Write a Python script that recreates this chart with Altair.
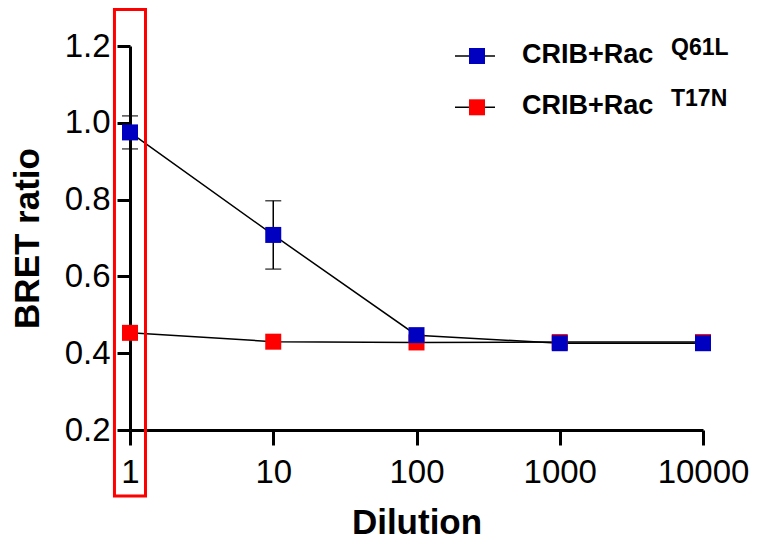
import altair as alt
import pandas as pd

# ---- data ----
dilution = [1, 10, 100, 1000, 10000]
q61l_mean = [0.975, 0.708, 0.447, 0.426, 0.426]
q61l_err = [0.043, 0.089, 0.0, 0.0, 0.0]
t17n_mean = [0.453, 0.430, 0.428, 0.429, 0.429]
t17n_err = [0.0, 0.0, 0.0, 0.0, 0.0]

series_names = ["CRIB+Rac Q61L", "CRIB+Rac T17N"]
legend_main = ["CRIB+Rac", "CRIB+Rac"]
legend_sup = ["Q61L", "T17N"]
series_colors = ["#0000C0", "#FF0000"]

y_ticks = [0.2, 0.4, 0.6, 0.8, 1.0, 1.2]
x_ticks = [1, 10, 100, 1000, 10000]

# highlight box around dilution 1 (data space)
box_x = [0.779, 1.283]
box_y = [0.028, 1.295]

rows = []
for name, means, errs in [(series_names[0], q61l_mean, q61l_err),
                          (series_names[1], t17n_mean, t17n_err)]:
    for d, m, e in zip(dilution, means, errs):
        rows.append({"series": name, "dilution": d, "mean": m,
                     "lo": m - e, "hi": m + e, "err": e})
df = pd.DataFrame(rows)

W, H = 573, 384
FONT = "Liberation Sans"

xscale = alt.Scale(type="log", domain=[1, 10000], nice=False)
yscale = alt.Scale(domain=[0.2, 1.2], nice=False, zero=False)

x_axis = alt.Axis(values=x_ticks, format="d",
                  labelFontSize=33, titleFontSize=35, titleFontWeight="bold",
                  tickSize=15, tickWidth=3, domainWidth=3,
                  labelPadding=11, titlePadding=16, labelFlush=False,
                  labelOverlap=False, grid=False,
                  domainColor="black", tickColor="black",
                  labelColor="black", titleColor="black")
y_axis = alt.Axis(values=y_ticks, format=".1f",
                  labelFontSize=33, titleFontSize=35, titleFontWeight="bold",
                  tickSize=13, tickWidth=3, domainWidth=3,
                  labelPadding=7, titlePadding=19, grid=False,
                  domainColor="black", tickColor="black",
                  labelColor="black", titleColor="black")

XT = "Dilution"
YT = "BRET ratio"

color_scale = alt.Scale(domain=series_names, range=series_colors)

base = alt.Chart(df)

lines = base.mark_line(color="black", strokeWidth=1.5).encode(
    x=alt.X("dilution:Q", scale=xscale, axis=x_axis, title=XT),
    y=alt.Y("mean:Q", scale=yscale, axis=y_axis, title=YT),
    detail="series:N",
    order=alt.Order("dilution:Q"))

errbars = base.transform_filter("datum.err > 0").mark_errorbar(
    ticks=True, size=16, thickness=1.5, color="black").encode(
    x=alt.X("dilution:Q", scale=xscale, axis=x_axis, title=XT),
    y=alt.Y("lo:Q", scale=yscale, axis=y_axis, title=YT),
    y2="hi:Q")

red_pts = base.transform_filter(alt.datum.series == series_names[1]).mark_point(
    shape="square", filled=True, size=256, opacity=1).encode(
    x=alt.X("dilution:Q", scale=xscale, axis=x_axis, title=XT),
    y=alt.Y("mean:Q", scale=yscale, axis=y_axis, title=YT),
    color=alt.Color("series:N", scale=color_scale, legend=None))

blue_pts = base.transform_filter(alt.datum.series == series_names[0]).mark_point(
    shape="square", filled=True, size=256, opacity=1).encode(
    x=alt.X("dilution:Q", scale=xscale, axis=x_axis, title=XT),
    y=alt.Y("mean:Q", scale=yscale, axis=y_axis, title=YT),
    color=alt.Color("series:N", scale=color_scale, legend=None))

box_df = pd.DataFrame({"x1": [box_x[0]], "x2": [box_x[1]],
                       "y1": [box_y[0]], "y2": [box_y[1]]})
box = alt.Chart(box_df).mark_rect(filled=False, stroke="#FF0000", strokeWidth=3,
                                  clip=False).encode(
    x=alt.X("x1:Q", scale=xscale, axis=x_axis, title=XT), x2="x2:Q",
    y=alt.Y("y1:Q", scale=yscale, axis=y_axis, title=YT), y2="y2:Q")

# ---- manual legend (superscripts) ----
legend_layers = []
for i in range(2):
    yc = 10 + i * 51.3
    one = pd.DataFrame({"t": [legend_main[i]], "s": [legend_sup[i]]})
    lc = alt.Chart(one)
    legend_layers.append(lc.mark_rule(color="black", strokeWidth=1.5).encode(
        x=alt.value(325), x2=alt.value(365), y=alt.value(yc)))
    legend_layers.append(lc.mark_point(shape="square", filled=True, size=256,
                                       opacity=1, color=series_colors[i]).encode(
        x=alt.value(347), y=alt.value(yc)))
    legend_layers.append(lc.mark_text(align="left", baseline="alphabetic",
                                      fontSize=27, fontWeight="bold",
                                      color="black", font=FONT).encode(
        x=alt.value(392), y=alt.value(yc + 6.5), text="t:N"))
    legend_layers.append(lc.mark_text(align="left", baseline="alphabetic",
                                      fontSize=23, fontWeight="bold",
                                      color="black", font=FONT).encode(
        x=alt.value(541), y=alt.value(yc - 1), text="s:N"))

chart = alt.layer(lines, box, errbars, red_pts, blue_pts, *legend_layers).properties(
    width=W, height=H,
    autosize=alt.AutoSizeParams(type="none"),
    padding={"left": 122, "top": 38, "right": 47, "bottom": 112},
).configure(font=FONT).configure_view(stroke=None).configure_axis(grid=False)

chart.save("out.html", embed_options={"renderer": "svg", "actions": False})
